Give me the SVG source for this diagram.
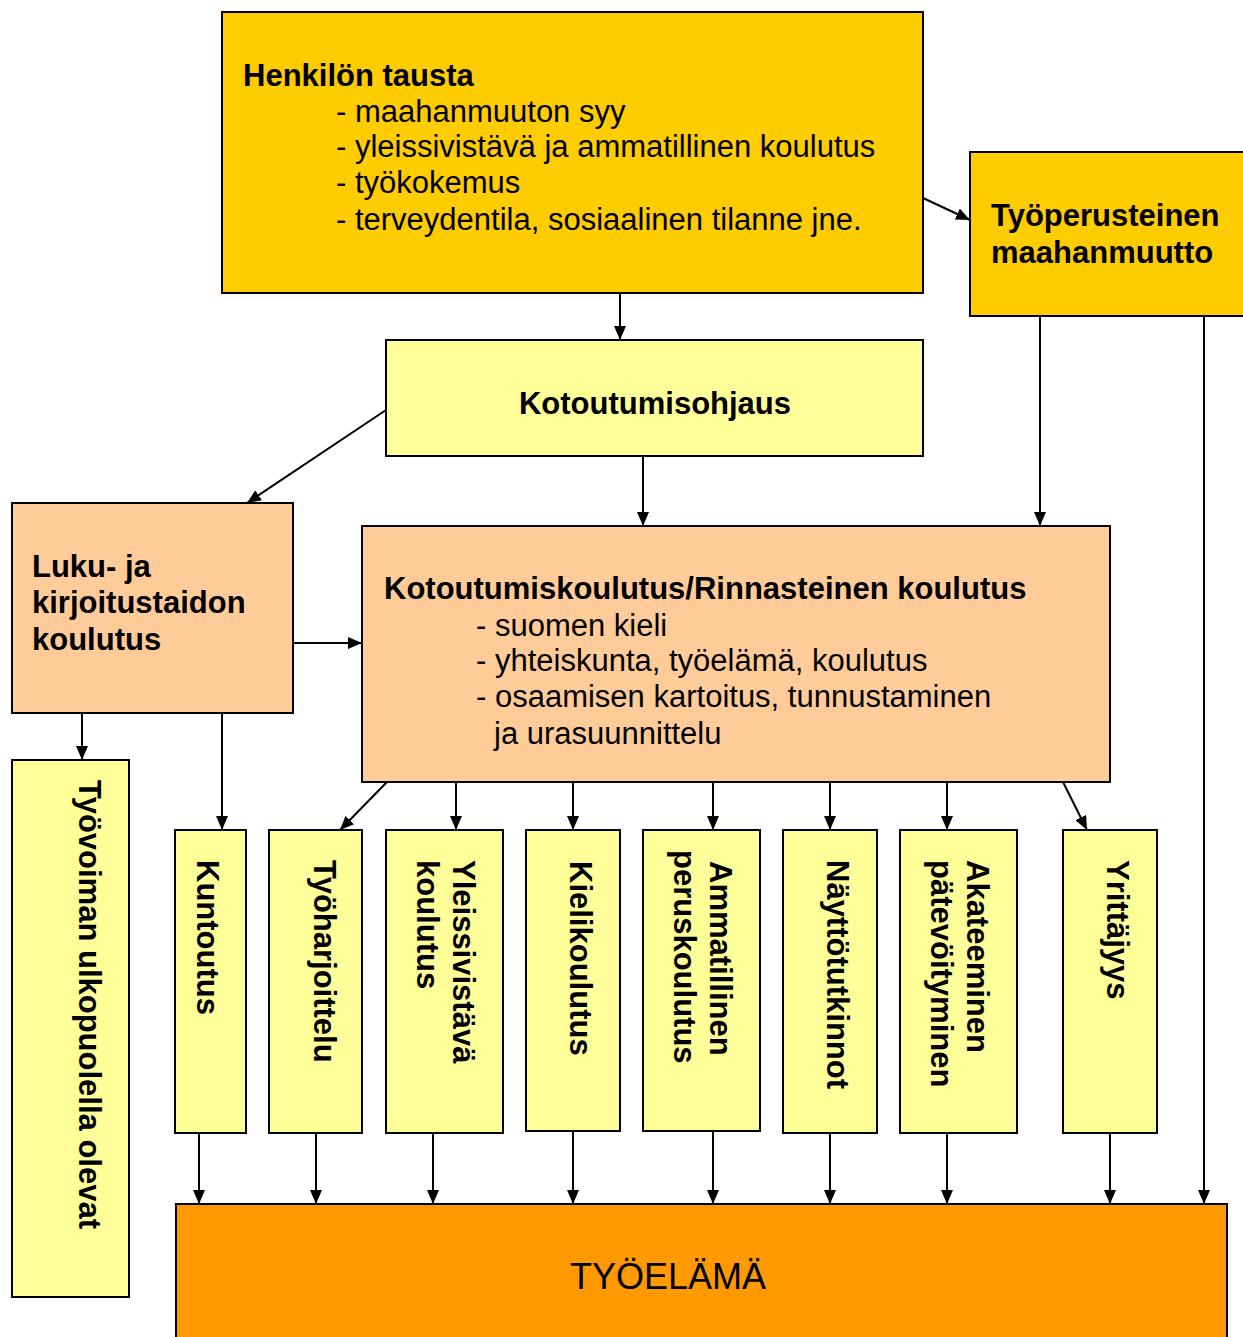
<svg xmlns="http://www.w3.org/2000/svg" width="1243" height="1337" viewBox="0 0 1243 1337">
<style>
  .box { stroke: #000; stroke-width: 2; }
  .gold { fill: #FFCC00; }
  .yel { fill: #FFFF99; }
  .peach { fill: #FFCC99; }
  .orange { fill: #FF9900; }
  text { font-family: "Liberation Sans", Arial, sans-serif; font-size: 31px; fill: #000; }
  .b { font-weight: bold; }
  .conn line { stroke: #000; stroke-width: 2; marker-end: url(#arr); }
</style>
<defs>
  <marker id="arr" viewBox="0 0 14 12" refX="14" refY="6" markerWidth="14" markerHeight="12" markerUnits="userSpaceOnUse" orient="auto">
    <path d="M0,0 L14,6 L0,12 z" fill="#000"/>
  </marker>
</defs>
<rect width="1243" height="1337" fill="#fff"/>

<g id="henkilon-tausta">
  <rect class="box gold" x="222" y="12" width="701" height="281"/>
  <text class="b" x="243" y="86">Henkilön tausta</text>
  <text x="336" y="122">- maahanmuuton syy</text>
  <text x="336" y="157">- yleissivistävä ja ammatillinen koulutus</text>
  <text x="336" y="193">- työkokemus</text>
  <text x="336" y="230">- terveydentila, sosiaalinen tilanne jne.</text>
</g>

<g id="tyoperusteinen">
  <rect class="box gold" x="970" y="152" width="290" height="164"/>
  <text class="b" x="991" y="226">Työperusteinen</text>
  <text class="b" x="991" y="263">maahanmuutto</text>
</g>

<g id="kotoutumisohjaus">
  <rect class="box yel" x="386" y="340" width="537" height="116"/>
  <text class="b" x="655" y="414" text-anchor="middle">Kotoutumisohjaus</text>
</g>

<g id="luku">
  <rect class="box peach" x="12" y="503" width="281" height="210"/>
  <text class="b" x="32" y="577">Luku- ja</text>
  <text class="b" x="32" y="613">kirjoitustaidon</text>
  <text class="b" x="32" y="650">koulutus</text>
</g>

<g id="kotoutumiskoulutus">
  <rect class="box peach" x="362" y="526" width="748" height="256"/>
  <text class="b" x="384" y="599">Kotoutumiskoulutus/Rinnasteinen koulutus</text>
  <text x="476" y="636">- suomen kieli</text>
  <text x="476" y="671">- yhteiskunta, työelämä, koulutus</text>
  <text x="476" y="707">- osaamisen kartoitus, tunnustaminen</text>
  <text x="494" y="744">ja urasuunnittelu</text>
</g>

<g id="tyovoiman-ulkopuolella">
  <rect class="box yel" x="12" y="760" width="117" height="537"/>
  <text class="b" transform="translate(79,780) rotate(90)">Työvoiman ulkopuolella olevat</text>
</g>

<g id="kuntoutus">
  <rect class="box yel" x="175" y="830" width="71" height="303"/>
  <text class="b" transform="translate(197,860) rotate(90)">Kuntoutus</text>
</g>

<g id="tyoharjoittelu">
  <rect class="box yel" x="269" y="830" width="93" height="303"/>
  <text class="b" transform="translate(314,860) rotate(90)">Työharjoittelu</text>
</g>

<g id="yleissivistava">
  <rect class="box yel" x="386" y="830" width="117" height="303"/>
  <text class="b" transform="translate(453,860) rotate(90)">Yleissivistävä</text>
  <text class="b" transform="translate(417,860) rotate(90)">koulutus</text>
</g>

<g id="kielikoulutus">
  <rect class="box yel" x="526" y="830" width="94" height="301"/>
  <text class="b" transform="translate(570,861) rotate(90)">Kielikoulutus</text>
</g>

<g id="ammatillinen">
  <rect class="box yel" x="643" y="830" width="117" height="301"/>
  <text class="b" transform="translate(710,861) rotate(90)">Ammatillinen</text>
  <text class="b" transform="translate(674,850) rotate(90)">peruskoulutus</text>
</g>

<g id="nayttotutkinnot">
  <rect class="box yel" x="783" y="830" width="94" height="303"/>
  <text class="b" transform="translate(827,860) rotate(90)">Näyttötutkinnot</text>
</g>

<g id="akateeminen">
  <rect class="box yel" x="900" y="830" width="117" height="303"/>
  <text class="b" transform="translate(967,860) rotate(90)">Akateeminen</text>
  <text class="b" transform="translate(931,860) rotate(90)">pätevöityminen</text>
</g>

<g id="yrittajyys">
  <rect class="box yel" x="1063" y="830" width="94" height="303"/>
  <text class="b" transform="translate(1107,860) rotate(90)">Yrittäjyys</text>
</g>

<g id="tyoelama">
  <rect class="box orange" x="176" y="1204" width="1051" height="150"/>
  <text x="668" y="1289" text-anchor="middle" style="font-size:36px">TYÖELÄMÄ</text>
</g>

<g id="connectors" class="conn">
  <line x1="923" y1="198" x2="970" y2="220"/>
  <line x1="620" y1="293" x2="620" y2="340"/>
  <line x1="386" y1="410" x2="247" y2="503"/>
  <line x1="643" y1="456" x2="643" y2="526"/>
  <line x1="1040" y1="316" x2="1040" y2="526"/>
  <line x1="1204" y1="316" x2="1204" y2="1204"/>
  <line x1="293" y1="643" x2="362" y2="643"/>
  <line x1="82" y1="713" x2="82" y2="760"/>
  <line x1="222" y1="713" x2="222" y2="830"/>
  <line x1="387" y1="782" x2="340" y2="830"/>
  <line x1="456" y1="782" x2="456" y2="830"/>
  <line x1="573" y1="782" x2="573" y2="830"/>
  <line x1="713" y1="782" x2="713" y2="830"/>
  <line x1="830" y1="782" x2="830" y2="830"/>
  <line x1="947" y1="782" x2="947" y2="830"/>
  <line x1="1063" y1="782" x2="1087" y2="830"/>
  <line x1="199" y1="1133" x2="199" y2="1204"/>
  <line x1="316" y1="1133" x2="316" y2="1204"/>
  <line x1="433" y1="1133" x2="433" y2="1204"/>
  <line x1="573" y1="1131" x2="573" y2="1204"/>
  <line x1="713" y1="1131" x2="713" y2="1204"/>
  <line x1="830" y1="1133" x2="830" y2="1204"/>
  <line x1="947" y1="1133" x2="947" y2="1204"/>
  <line x1="1110" y1="1133" x2="1110" y2="1204"/>
</g>
</svg>
